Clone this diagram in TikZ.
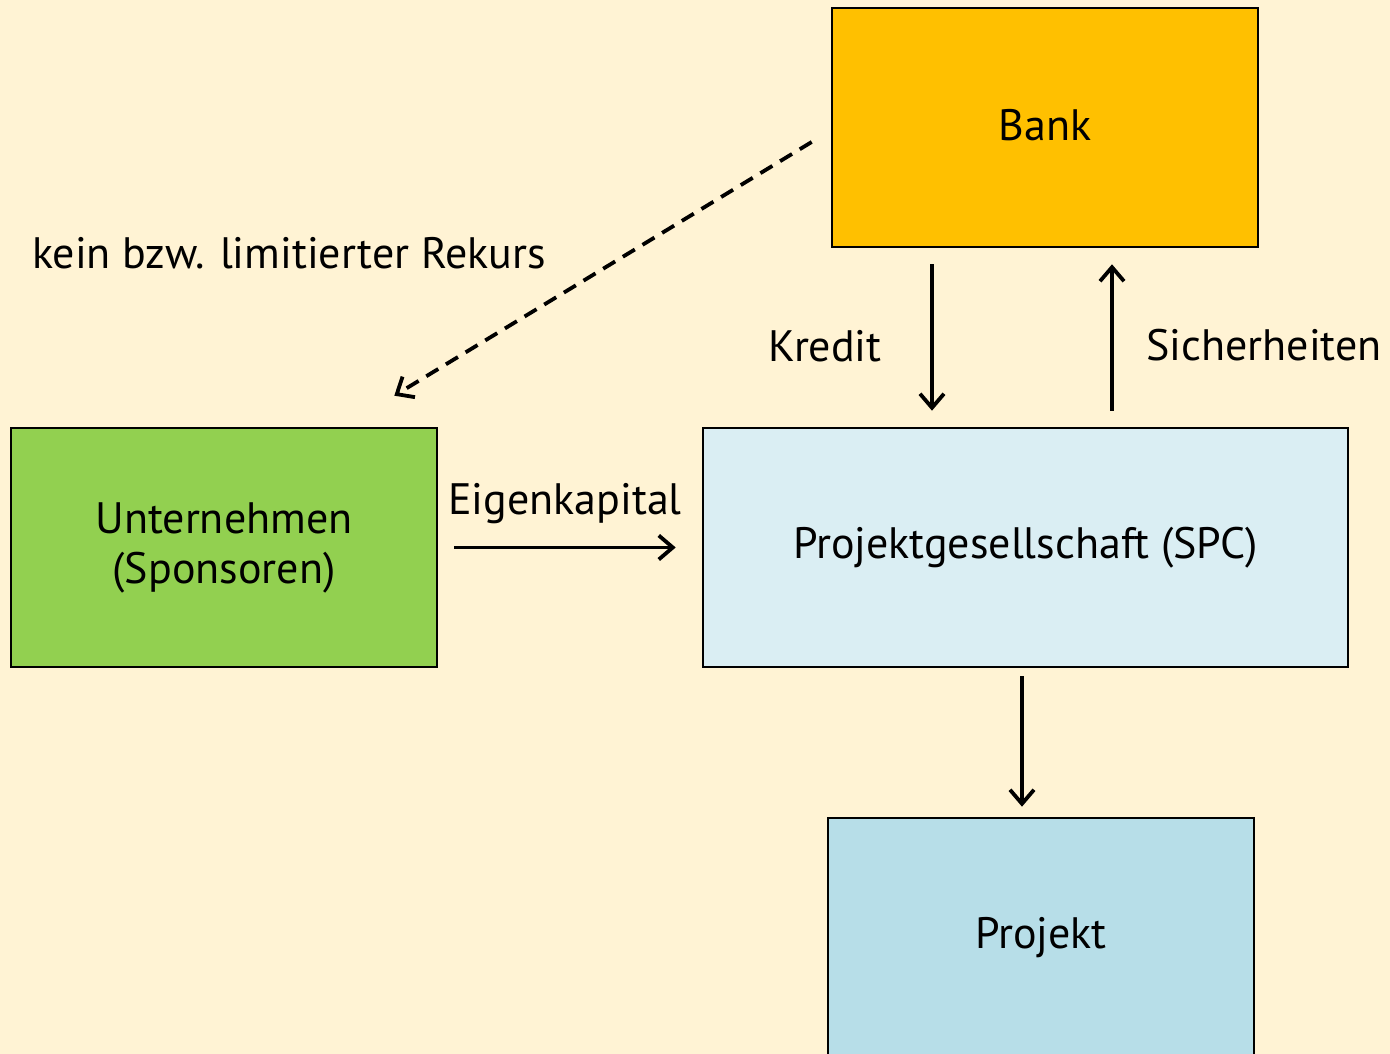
\documentclass[tikz,border=0pt]{standalone}
\usepackage{fontspec}
\setmainfont{PT Sans}
\usepackage{tikz}
\usepackage{xcolor}
\usetikzlibrary{arrows.meta,positioning,calc}
\definecolor{paper}{HTML}{FFF3D4}
\definecolor{bankfill}{HTML}{FFC000}
\definecolor{firmfill}{HTML}{92D050}
\definecolor{spcfill}{HTML}{DAEEF3}
\definecolor{projfill}{HTML}{B7DEE8}
\tikzset{
  >={Straight Barb[length=14pt,width=24pt,line width=3.8pt]},
  party/.style = {draw, line width=2.6pt, align=center, minimum width=426pt, minimum height=239pt, inner sep=0pt},
  flow/.style  = {->, line width=3.8pt},
  lbl/.style   = {inner sep=0pt, anchor=base},
  every node/.style = {font=\fontsize{44}{50}\selectfont}
}

\begin{document}
\begin{tikzpicture}[x=1pt, y=1pt]  % one unit = one pixel of the sketch, y measured from bottom
  \fill[paper] (0,0) rectangle (1390,1054);
  \useasboundingbox (0,0) rectangle (1390,1054);

  %  --  The four parties
  \node[party, fill=bankfill] (bank) at (1045,926.5) {\raisebox{6pt}{Bank}};
  \node[party, fill=firmfill] (firm) at (224,506.5) {Unternehmen\\(Sponsoren)};
  \node[party, fill=spcfill, minimum width=645pt] (spc) at (1025.5,506.5) {\raisebox{3pt}{Projektgesellschaft (SPC)}};
  \node[party, fill=projfill] (proj) at (1041,116.5) {Projekt};

  %  --  Columns of the vertical flows
  \coordinate (kre) at (932,0);
  \coordinate (sic) at (1112,0);
  \coordinate (inv) at (1022,0);

  \draw[flow, shorten <=16pt, shorten >=16pt] (bank.south -| kre) -- (spc.north -| kre);
  \draw[flow, shorten <=16pt, shorten >=16pt] (spc.north -| sic) -- (bank.south -| sic);
  \draw[flow, shorten <=16pt, shorten >=26pt] (firm.east) -- (spc.west);
  \draw[flow, shorten <=8pt, shorten >=10pt] (spc.south -| inv) -- (proj.north -| inv);

  %  --  Recourse back to the sponsors (dashed)
  \draw[flow, dash pattern=on 14pt off 9pt]
    ($(bank.west)+(-19,-14.5)$) -- ($(firm.north east)+(-44,31)$);

  %  --  Labels
  \node[lbl, anchor=base west] (rek) at (32,785) {kein bzw. limitierter Rekurs};
  \node[lbl] (kred) at (825,692) {Kredit};
  \node[lbl] (sich) at (1264,693) {Sicherheiten};
  \node[lbl] (eigen) at (565,539) {Eigenkapital};
\end{tikzpicture}
\end{document}
